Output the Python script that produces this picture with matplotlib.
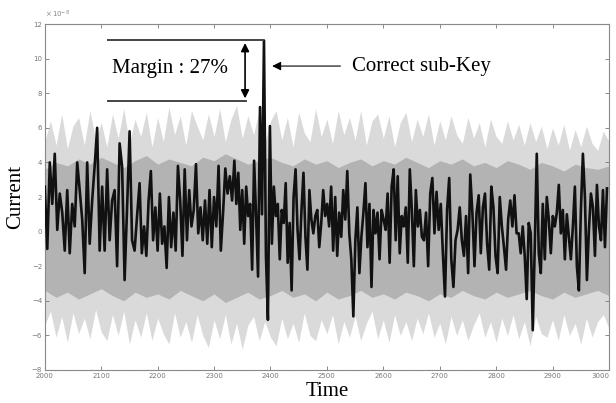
import numpy as np
import matplotlib
matplotlib.use("Agg")
import matplotlib.pyplot as plt

# ---- data (units of 1e-8) ----
seg_edges = [2000, 2168, 2336, 2504, 2672, 2840, 3000]
seg_values = [
    [2.6, -1.0, 4.0, 1.6, 4.5, 0.1, 2.2, 1.1, -1.1, 2.4, -1.25, 1.6, 0.3, 4.0, 2.4, 0.7, -2.4, 4.0, -0.7, 1.8,
     3.8, 6.0, -1.1, 2.6, -1.1, 3.6, -0.5, 1.8, 2.4, -2.0, 5.1, 3.75, -2.8, 1.4, 5.8, -0.5, -1.1, 0.9],
    [2.8, -1.25, 0.3, -1.4, 1.8, 3.5, -0.5, 1.4, -1.1, 2.2, -0.7, 0.3, -2.1, 2.0, -0.9, 1.1, -1.1, 3.8, 1.8, -1.4,
     3.6, -0.5, 2.4, 0.3, 1.25, 3.9, -0.1, 1.4, -0.5, 1.8, -0.7, 2.4, -0.9, 2.0, 0.3, 3.8, -1.1, 1.1, 3.65, 2.2,
     3.2, 1.8],
    [4.1, 1.6, 3.4, 0.1, 2.4, -0.7, 2.6, 0.9, 1.6, -2.2, 4.1, 0.9, -2.6, 7.2, 1.0, 11.05, -1.4, -5.1, 6.1, -0.7,
     2.6, 0.9, 1.6, -1.6, 1.25, 0.5, 2.8, -1.8, 0.5, -3.4, 2.0, 3.6, 0.1, -1.6, 1.25, 3.4, -0.3, -2.2, 2.4, 0.7,
     -0.1, 0.9, 1.25, -0.9, 0.5, 2.4, 0.9, 1.6],
    [0.3, 2.6, -1.1, 2.0, -1.4, 1.1, -0.3, 2.4, 0.7, 3.5, -0.1, -1.6, -4.9, -0.5, 1.4, -2.4, -0.3, 1.1, 2.8, -0.9,
     1.6, -3.2, 1.25, -0.1, 1.1, -1.6, 1.25, 0.7, 0.1, 2.2, -1.8, 2.6, 3.6, -0.5, 3.2, -1.25, 0.9, 0.3, 1.4, -1.8,
     3.6, 1.25, -2.0, 2.4, 0.3, 1.25, -0.3],
    [-0.5, 1.1, -2.0, 2.2, 3.1, -0.1, 2.3, 0.1, 1.6, -1.25, -3.75, 1.25, 3.1, -1.6, -3.2, -0.5, 0.1, 1.4, -0.5, -1.4,
     0.9, -2.4, 3.3, 1.1, -2.0, 1.1, 2.1, -1.25, 1.4, 2.2, -0.7, -2.2, 2.6, 1.4, -1.4, -2.4, 2.0, 0.3, -0.9, -2.2,
     0.7, 1.8, 0.3, 2.1, -0.1],
    [-0.1, -1.25, 0.3, -1.4, -3.9, 0.5, -0.1, -5.7, -0.9, 4.5, -1.25, -2.4, 1.6, -1.6, 2.0, 0.7, -1.25, 0.9, 0.3, 1.1,
     2.7, -0.1, 1.25, -1.6, 1.0, -0.3, -1.6, 0.3, 2.6, -2.0, -3.4, 1.25, 4.5, 2.0, -2.8, 0.1, 2.2, 1.4, -1.4, 2.7,
     0.3, -0.5, 2.4, -0.9, 2.5],
]

# grey band of the other sub-keys (envelopes)
outer_time = list(range(2000, 3001, 10))
outer_up = [5.2, 6.4, 5.0, 6.8, 4.8, 6.1, 6.6, 5.0, 7.0, 5.3,
            6.3, 4.9, 6.8, 5.4, 7.1, 5.1, 6.5, 5.5, 6.9, 4.9,
            6.6, 5.2, 7.2, 5.6, 6.7, 5.0, 7.0, 6.1, 5.3, 6.8,
            5.5, 7.1, 5.2, 6.5, 7.3, 5.4, 6.7, 5.6, 7.0, 5.1,
            6.4, 7.0, 5.3, 6.6, 4.9, 6.9, 5.7, 5.2, 7.1, 5.5,
            6.5, 5.1, 7.0, 5.6, 6.6, 5.3, 7.0, 5.0, 6.4, 6.8,
            5.4, 6.7, 4.9, 6.3, 6.9, 5.2, 6.5, 5.5, 6.8, 5.0,
            6.4, 5.3, 6.7, 5.6, 5.1, 6.6, 5.4, 6.3, 4.9, 6.5,
            5.5, 5.1, 6.4, 5.3, 6.2, 5.0, 6.3, 5.2, 6.1, 4.8,
            6.0, 5.0, 6.2, 4.7, 5.9, 4.9, 6.1, 5.1, 4.7, 5.8, 5.2]
outer_lo = [-5.4, -4.6, -6.1, -4.9, -6.4, -4.7, -5.9, -5.0, -6.2, -4.5,
            -5.8, -6.3, -4.8, -6.0, -4.6, -6.5, -5.1, -6.1, -4.7, -6.3,
            -5.0, -5.9, -6.5, -4.7, -6.1, -5.2, -6.4, -4.8, -6.0, -6.7,
            -5.1, -6.2, -4.8, -6.5, -5.3, -6.8, -5.4, -4.9, -6.3, -5.2,
            -6.1, -6.6, -5.0, -6.2, -5.3, -6.4, -4.7, -6.0, -6.3, -5.1,
            -5.9, -4.8, -6.5, -5.2, -6.1, -4.9, -6.3, -5.3, -4.6, -6.2,
            -5.1, -6.4, -4.8, -6.0, -5.2, -6.3, -5.0, -5.9, -4.7, -6.1,
            -5.3, -6.5, -4.9, -6.0, -5.1, -6.3, -5.4, -4.7, -6.1, -5.2,
            -6.4, -5.0, -6.0, -4.8, -6.2, -5.2, -6.6, -4.9, -5.9, -6.1,
            -5.1, -6.3, -4.8, -6.0, -5.3, -6.5, -5.0, -6.1, -5.2, -4.8, -5.6]
inner_time = list(range(2000, 3001, 20))
inner_up = [3.6, 4.0, 3.8, 4.2, 3.9, 4.3, 4.0, 3.7, 4.1, 4.4,
            3.9, 4.2, 4.0, 3.8, 4.3, 4.1, 4.5, 4.2, 3.9, 4.1,
            4.3, 4.0, 3.8, 4.2, 3.9, 4.1, 3.7, 4.0, 4.2, 3.8,
            4.1, 3.9, 4.3, 4.0, 3.7, 4.1, 3.9, 4.2, 3.8, 4.0,
            3.7, 4.1, 3.9, 3.6, 4.0, 3.8, 3.5, 3.9, 3.7, 3.6, 3.8]
inner_lo = [-3.4, -3.8, -3.5, -3.9, -3.6, -3.3, -3.7, -4.0, -3.5, -3.8,
            -3.6, -3.9, -3.4, -3.7, -4.0, -3.6, -4.1, -3.8, -3.5, -3.9,
            -3.7, -3.4, -3.8, -3.6, -4.0, -3.5, -3.9, -3.7, -3.4, -3.8,
            -3.6, -3.9, -3.5, -3.7, -4.0, -3.6, -3.8, -3.4, -3.7, -3.9,
            -3.5, -3.8, -3.6, -3.4, -3.7, -3.9, -3.5, -3.8, -3.6, -3.4, -3.7]

x_ticks = [2000, 2100, 2200, 2300, 2400, 2500, 2600, 2700, 2800, 2900, 3000]
y_ticks = [-8, -6, -4, -2, 0, 2, 4, 6, 8, 10, 12]

margin_text = "Margin : 27%"
key_text = "Correct sub-Key"
peak_level = 11.05
second_level = 7.55

# ---- build black trace ----
t_black = []
v_black = []
for i, vals in enumerate(seg_values):
    t_black.extend(np.linspace(seg_edges[i], seg_edges[i + 1], len(vals), endpoint=False))
    v_black.extend(vals)

serif = ["Liberation Serif", "DejaVu Serif"]

fig = plt.figure(figsize=(6.16, 4.03), dpi=100)
ax = fig.add_axes([0.0727, 0.0819, 0.9159, 0.8585])

ax.fill_between(outer_time, outer_lo, outer_up, color="#dadada", lw=0, zorder=1)
ax.fill_between(inner_time, inner_lo, inner_up, color="#b3b3b3", lw=0, zorder=2)
ax.plot(t_black, v_black, color="#111111", lw=1.9, zorder=3)

ax.set_xlim(2000, 3000)
ax.set_ylim(-8, 12)
ax.set_xticks(x_ticks)
ax.set_yticks(y_ticks)
ax.tick_params(direction="in", top=True, right=True, length=3, width=0.6,
               labelsize=5, labelcolor="#777777", color="#777777", pad=2)
xlabels = ax.get_xticklabels()
xlabels[-1].set_horizontalalignment("right")
for s in ax.spines.values():
    s.set_color("#8a8a8a")
    s.set_linewidth(0.8)
    s.set_linestyle((0, (1, 0.6)))

ax.text(0.0, 1.012, r"$\times\,10^{-8}$", transform=ax.transAxes, fontsize=5,
        color="#888888", ha="left", va="bottom")

ax.set_ylabel("Current", fontsize=15, family=serif, labelpad=5)
ax.set_xlabel("Time", fontsize=15, family=serif, labelpad=2)

# annotations
ax.plot([2112, 2387], [peak_level, peak_level], color="#444444", lw=1.4, zorder=4)
ax.plot([2112, 2357], [second_level, second_level], color="#444444", lw=1.4, zorder=4)
ax.annotate("", xy=(2355, peak_level - 0.15), xytext=(2355, second_level + 0.15),
            arrowprops=dict(arrowstyle="<|-|>", color="black", lw=1.2, mutation_scale=12,
                            shrinkA=0, shrinkB=0), zorder=5)
ax.text(2119, 9.45, margin_text, fontsize=15, family=serif, ha="left", va="center", zorder=5)
ax.annotate("", xy=(2403, 9.57), xytext=(2524, 9.57),
            arrowprops=dict(arrowstyle="-|>", color="black", lw=0.8, mutation_scale=13,
                            shrinkA=0, shrinkB=0), zorder=5)
ax.text(2545, 9.57, key_text, fontsize=15, family=serif, ha="left", va="center", zorder=5)

fig.savefig("out.png", dpi=100)
